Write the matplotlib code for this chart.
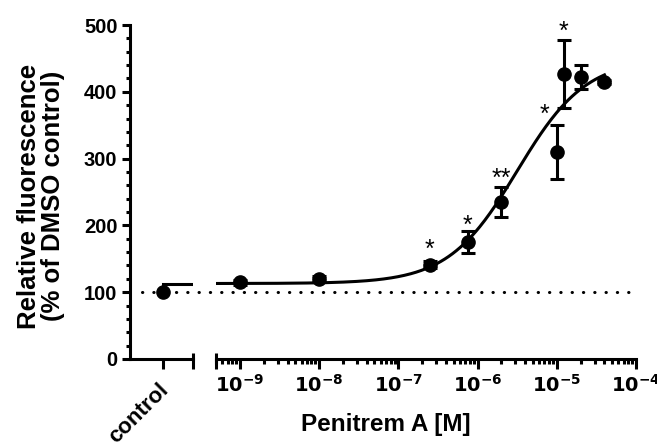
import numpy as np
import matplotlib
matplotlib.use("Agg")
import matplotlib.pyplot as plt
import matplotlib.transforms as mtransforms
from matplotlib.ticker import MultipleLocator, LogLocator, NullFormatter

plt.rcParams['font.family'] = ['Liberation Sans', 'DejaVu Sans']
plt.rcParams['font.weight'] = 'bold'

# Data
control_value = 100
conc = [1e-9, 1e-8, 2.5e-7, 7.5e-7, 2e-6, 1e-5, 1.23e-5, 2e-5, 4e-5]
response = [115, 120, 141, 175, 235, 310, 427, 422, 415]
sem = [4, 4, 5, 16, 22, 40, 51, 18, 3]

# significance marks (x, y, label)
star_x = [2.5e-7, 7.5e-7, 2e-6, 7e-6, 1.23e-5]
star_y = [163, 200, 270, 365, 490]
star_txt = ["*", "*", "**", "*", "*"]

# fitted sigmoid parameters
fit_bottom = 113
fit_top = 450
fit_log_ec50 = -5.5
fit_hill = 1.0

W, H = 657, 447
fig = plt.figure(figsize=(W / 100, H / 100), dpi=100)
ax1 = fig.add_axes([130 / W, 88 / H, 63 / W, 334 / H])
ax2 = fig.add_axes([216 / W, 88 / H, 420 / W, 334 / H])

lw = 2.2
col = 'black'

for ax in (ax1, ax2):
    ax.set_ylim(0, 500)
    ax.spines['top'].set_visible(False)
    ax.spines['right'].set_visible(False)
    ax.spines['bottom'].set_linewidth(lw)
    ax.spines['left'].set_linewidth(lw)
    ax.patch.set_alpha(0)

# control panel
ax1.set_xlim(-1.05, 0.95)
ax1.set_xticks([0])
ax1.set_xticklabels([])
ax1.tick_params(axis='x', length=7, width=lw)
ax1.yaxis.set_major_locator(MultipleLocator(100))
ax1.yaxis.set_minor_locator(MultipleLocator(20))
ax1.tick_params(axis='y', which='major', length=6, width=lw, labelsize=14.5, pad=3)
ax1.tick_params(axis='y', which='minor', length=3, width=lw)
for t in ax1.get_yticklabels():
    t.set_fontweight('bold')
ax1.plot([0], [control_value], 'o', color=col, ms=9.5, zorder=5, clip_on=False)
ax1.plot([0, 0.95], [fit_bottom, fit_bottom], color=col, lw=lw)
ax1.text(-0.15, -30, "control", rotation=45, rotation_mode='anchor', ha='right', va='top',
         fontsize=16, fontweight='bold', transform=ax1.transData, clip_on=False)
ax1.plot([1, 1], [-10 / 334, 6 / 334], color=col, lw=lw, transform=ax1.transAxes,
         clip_on=False, solid_capstyle='butt')

# concentration panel
ax2.spines['left'].set_visible(False)
ax2.set_xscale('log')
ax2.set_xlim(5e-10, 1e-4)
ax2.set_yticks([])
ax2.xaxis.set_major_locator(LogLocator(base=10, numticks=20))
ax2.xaxis.set_minor_locator(LogLocator(base=10, subs=np.arange(2, 10), numticks=20))
ax2.xaxis.set_minor_formatter(NullFormatter())
ax2.tick_params(axis='x', which='major', length=7, width=lw, labelsize=14, pad=4)
ax2.tick_params(axis='x', which='minor', length=3.5, width=lw)
ax2.set_xticks([1e-9, 1e-8, 1e-7, 1e-6, 1e-5, 1e-4])
ax2.set_xticklabels([r'$\mathbf{10^{-9}}$', r'$\mathbf{10^{-8}}$', r'$\mathbf{10^{-7}}$',
                     r'$\mathbf{10^{-6}}$', r'$\mathbf{10^{-5}}$', r'$\mathbf{10^{-4}}$'])
ax2.plot([0, 0], [-10 / 334, 6 / 334], color=col, lw=lw, transform=ax2.transAxes,
         clip_on=False, solid_capstyle='butt')

xfit = np.logspace(np.log10(5e-10), np.log10(4e-5), 300)
yfit = fit_bottom + (fit_top - fit_bottom) / (1 + 10 ** ((fit_log_ec50 - np.log10(xfit)) * fit_hill))
ax2.plot(xfit, yfit, color=col, lw=lw, zorder=3)

ax2.errorbar(conc, response, yerr=sem, fmt='none', ecolor=col, elinewidth=lw,
             capsize=4.7, capthick=lw, zorder=4)
ax2.plot(conc, response, 'o', color=col, ms=9.5, zorder=5, clip_on=False)

for x, y, s in zip(star_x, star_y, star_txt):
    ax2.text(x, y, s, ha='center', va='center', fontsize=18, fontweight='normal')

# dotted reference line across both panels
trans = mtransforms.blended_transform_factory(fig.transFigure, ax2.transData)
fig.lines.append(plt.Line2D([142 / W, 635 / W], [100, 100], transform=trans, color=col,
                            lw=2.2, linestyle=(0, (0.1, 3.6)), dash_capstyle='round'))

fig.text(386 / W, 1 - 424 / H, "Penitrem A [M]", ha='center', va='center',
         fontsize=17.5, fontweight='bold')
fig.text(41 / W, 1 - 196 / H, "Relative fluorescence\n(% of DMSO control)", ha='center',
         va='center', rotation=90, fontsize=18.5, fontweight='bold', linespacing=1.05)

fig.savefig("out.png", dpi=100)
